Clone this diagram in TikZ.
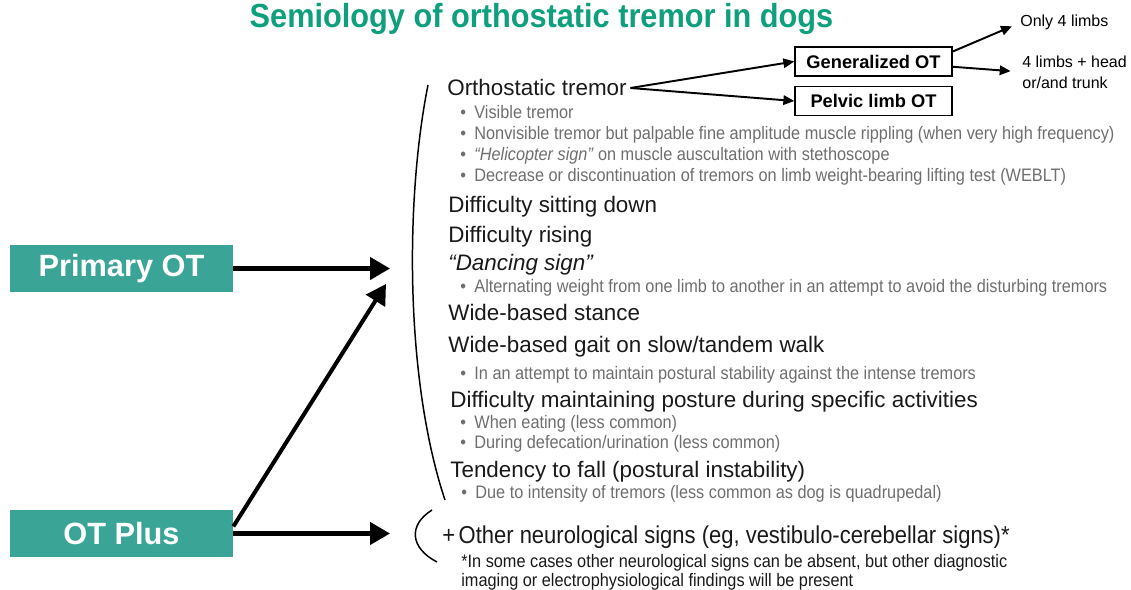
\documentclass[tikz,border=0pt]{standalone}
\usepackage{fontspec}
\setmainfont{Liberation Sans}
\newfontfamily\condfont[FakeStretch=0.9]{Liberation Sans}
\newfontfamily\titlefont[FakeStretch=0.92]{Liberation Sans}
\usepackage{xcolor}
\usetikzlibrary{arrows.meta}

\definecolor{titlegreen}{HTML}{0E9F7C}
\definecolor{otteal}{HTML}{3AA596}
\definecolor{bulgray}{HTML}{6E6E6E}

\newcommand{\bulletmark}{\makebox[8pt][l]{\textbullet}}

\begin{document}
\begin{tikzpicture}[
    x=0.02cm, y=-0.02cm,
    titletext/.style={
        anchor=base,
        inner sep=0pt,
        text=titlegreen,
        font=\titlefont\bfseries\fontsize{19}{22}\selectfont
    },
    otbox/.style={
        rectangle,
        fill=otteal,
        text=white,
        minimum width=4.46cm,
        minimum height=0.95cm,
        inner sep=0pt,
        font=\bfseries\fontsize{17.5}{20}\selectfont
    },
    subbox/.style={
        rectangle,
        draw=black,
        line width=0.85pt,
        minimum width=3.14cm,
        minimum height=0.58cm,
        inner sep=0pt,
        font=\bfseries\fontsize{10.4}{12}\selectfont
    },
    heading/.style={anchor=base west, inner sep=0pt, text=black!90, font=\fontsize{12.75}{15}\selectfont},
    bul/.style={anchor=base west, inner sep=0pt, text=bulgray, font=\condfont\fontsize{10.3}{12}\selectfont},
    neuro/.style={anchor=base west, inner sep=0pt, text=black!90, font=\condfont\fontsize{13.9}{16}\selectfont},
    fnote/.style={anchor=base west, inner sep=0pt, text=black!90, font=\condfont\fontsize{10.3}{12}\selectfont},
    sidetext/.style={anchor=base west, inner sep=0pt, font=\fontsize{9.1}{11.9}\selectfont},
    bigarrow/.style={-{Triangle[length=11.3pt,width=12.5pt]}, line width=2.3pt},
    thinarrow/.style={-{Triangle[length=6.2pt,width=5.4pt]}, line width=1.1pt},
    brace/.style={line width=0.85pt}
]
\useasboundingbox (0,0) rectangle (1131,590);

% =========================================================
% Title
% =========================================================
\node[titletext] (title) at (541.5,28) {Semiology of orthostatic tremor in dogs};

% =========================================================
% OT categories
% =========================================================
\node[otbox] (pot) at (121.5,268.5) {Primary OT};
\node[otbox] (otp) at (121.5,533.5) {OT Plus};

\coordinate (potend) at (390,268.5);
\coordinate (otpend) at (390,533.5);
\coordinate (diagend) at (386,284);

\draw[bigarrow] (pot.east) -- (potend);
\draw[bigarrow] (otp.east) -- (otpend);
\draw[bigarrow] ([yshift=4pt]otp.east) -- (diagend);

% Brackets
\draw[brace] (428,85) .. controls (405,200) and (405,380) .. (445,500);
\draw[brace] (432,510) .. controls (408,525) and (410,548) .. (437,562);

% =========================================================
% Clinical signs
% =========================================================
\node[heading] (ortho) at (447,96) {Orthostatic tremor};
\node[bul] (vis) at (460,119) {\bulletmark Visible tremor};
\node[bul] (nonvis) at (460,140) {\bulletmark Nonvisible tremor but palpable fine amplitude muscle rippling (when very high frequency)};
\node[bul] (heli) at (460,161) {\bulletmark\textit{“Helicopter sign”} on muscle auscultation with stethoscope};
\node[bul] (weblt) at (460,182) {\bulletmark Decrease or discontinuation of tremors on limb weight-bearing lifting test (WEBLT)};

\node[heading] (sit) at (448,213) {Difficulty sitting down};
\node[heading] (rise) at (448,243) {Difficulty rising};
\node[heading] (dance) at (448,271) {\textit{“Dancing sign”}};
\node[bul] (alt) at (460,293) {\bulletmark Alternating weight from one limb to another in an attempt to avoid the disturbing tremors};
\node[heading] (stance) at (448,321) {Wide-based stance};
\node[heading] (gait) at (448,353) {Wide-based gait on slow/tandem walk};
\node[bul] (stab) at (460,380) {\bulletmark In an attempt to maintain postural stability against the intense tremors};
\node[heading] (post) at (450,408) {Difficulty maintaining posture during specific activities};
\node[bul] (eat) at (460,429) {\bulletmark When eating (less common)};
\node[bul] (defec) at (460,449) {\bulletmark During defecation/urination (less common)};
\node[heading] (fall) at (450,478) {Tendency to fall (postural instability)};
\node[bul] (quad) at (461,498) {\bulletmark Due to intensity of tremors (less common as dog is quadrupedal)};

% OT Plus
\node[neuro] (other) at (442,543) {+\kern2pt Other neurological signs (eg, vestibulo-cerebellar signs)*};
\node[fnote] (fn1) at (461,567) {*In some cases other neurological signs can be absent, but other diagnostic};
\node[fnote] (fn2) at (461,586) {imaging or electrophysiological findings will be present};

% =========================================================
% Distribution of tremor
% =========================================================
\node[subbox] (gen) at (873.5,61.5) {Generalized OT};
\node[subbox] (pel) at (873.5,101) {Pelvic limb OT};

\draw[thinarrow] ([xshift=2pt]ortho.east) -- (gen.west);
\draw[thinarrow] ([xshift=2pt]ortho.east) -- (pel.west);

\node[sidetext] (only) at (1020,27) {Only 4 limbs};
\node[sidetext, anchor=west, align=left] (whole) at (1022,72) {4 limbs + head\\or/and trunk};

\draw[thinarrow, shorten >=5pt] ([yshift=-3pt]gen.north east) -- (only.west);
\draw[thinarrow, shorten >=6.5pt] ([yshift=-3pt]gen.east) -- (whole.west);

\end{tikzpicture}
\end{document}
